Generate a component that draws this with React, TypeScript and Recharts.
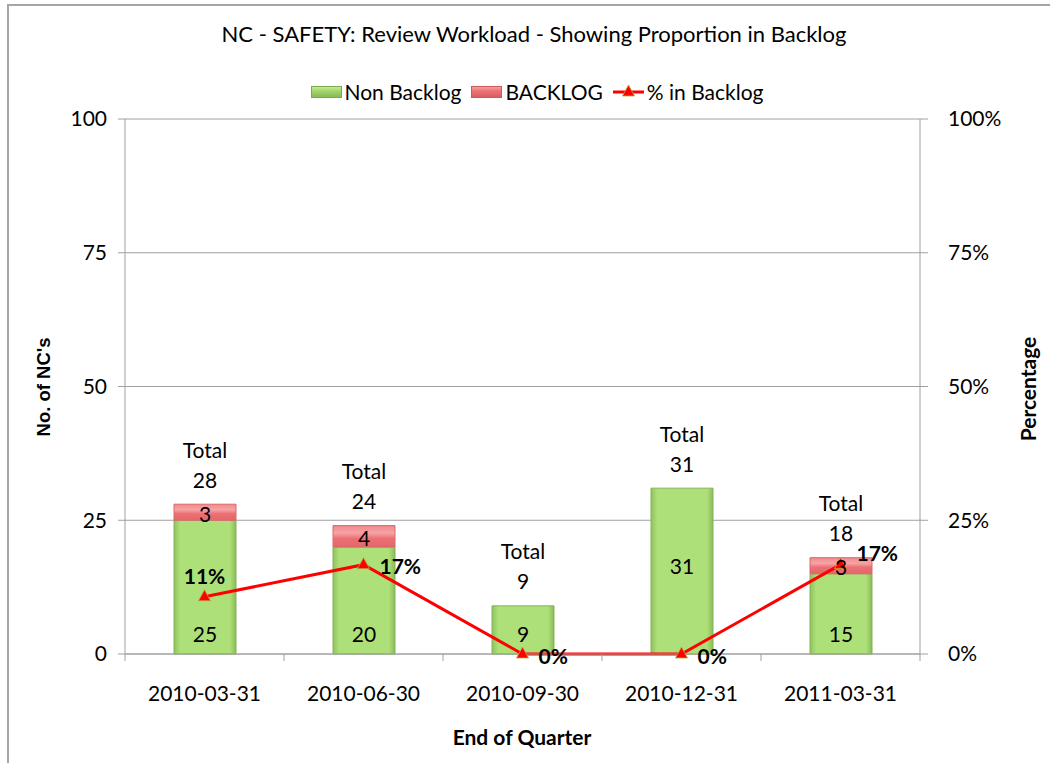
import React from 'react';
import { ComposedChart, Bar, Line, XAxis, YAxis, CartesianGrid, LabelList } from 'recharts';

const quarters = ['2010-03-31', '2010-06-30', '2010-09-30', '2010-12-31', '2011-03-31'];
const nonBacklog = [25, 20, 9, 31, 15];
const backlog = [3, 4, 0, 0, 3];
const totals = [28, 24, 9, 31, 18];
const pctInBacklog = [0.107, 0.167, 0, 0, 0.167];
const leftTicks = [0, 25, 50, 75, 100];
const rightTicks = [0, 0.25, 0.5, 0.75, 1];

const data = quarters.map((q, i) => ({
  quarter: q,
  nonBacklog: nonBacklog[i],
  backlog: backlog[i],
  total: totals[i],
  pct: pctInBacklog[i],
}));

const FONT = 'Lato, "Open Sans", sans-serif';
const FS = 21;
const AXIS = '#a0a0a0';
const HALF_BAND = 79.5;

const XTick = (props: any) => {
  const { x, y, payload, index } = props;
  return (
    <g>
      {index === 0 && <line x1={x - HALF_BAND} x2={x - HALF_BAND} y1={y} y2={y + 7} stroke={AXIS} />}
      <line x1={x + HALF_BAND} x2={x + HALF_BAND} y1={y} y2={y + 7} stroke={AXIS} />
      <text x={x} y={y + 38} textAnchor="middle" dominantBaseline="central" fontSize={FS} fontFamily={FONT} fill="#000">
        {payload.value}
      </text>
    </g>
  );
};

const GreenLabel = (props: any) => {
  const { x, y, width, height, value } = props;
  if (!value) return null;
  const cy = height > 150 ? y + height / 2 - 6 : y + height - 21;
  return (
    <text x={x + width / 2} y={cy} textAnchor="middle" dominantBaseline="central" fontSize={FS} fontFamily={FONT} fill="#000">
      {value}
    </text>
  );
};

const RedLabel = (props: any) => {
  const { x, y, width, height, value } = props;
  if (!value) return null;
  return (
    <text x={x + width / 2} y={y + height / 2 + 1} textAnchor="middle" dominantBaseline="central" fontSize={FS} fontFamily={FONT} fill="#000">
      {value}
    </text>
  );
};

// placed on the Non Backlog bar; lifts itself to the top of the whole stack
const TotalLabel = (props: any) => {
  const { x, y, width, height, index } = props;
  const row = data[index];
  if (!row || !row.nonBacklog) return null;
  const pxPerUnit = height / row.nonBacklog;
  const top = y + height - row.total * pxPerUnit;
  const cx = x + width / 2;
  return (
    <g>
      <text x={cx} y={top - 55} textAnchor="middle" dominantBaseline="central" fontSize={FS} fontFamily={FONT} fill="#000">
        Total
      </text>
      <text x={cx} y={top - 25} textAnchor="middle" dominantBaseline="central" fontSize={FS} fontFamily={FONT} fill="#000">
        {row.total}
      </text>
    </g>
  );
};

const PctLabel = (props: any) => {
  const { x, y, value, index } = props;
  const txt = Math.round(value * 100) + '%';
  if (index === 0) {
    return (
      <text x={x} y={y - 21} textAnchor="middle" dominantBaseline="central" fontSize={FS} fontWeight="bold" fontFamily={FONT} fill="#000">
        {txt}
      </text>
    );
  }
  const dy = index === data.length - 1 ? -12 : 1;
  return (
    <text x={x + 16} y={y + dy} textAnchor="start" dominantBaseline="central" fontSize={FS} fontWeight="bold" fontFamily={FONT} fill="#000">
      {txt}
    </text>
  );
};

const TriDot = (props: any) => {
  const { cx, cy } = props;
  if (cx == null || cy == null) return null;
  return (
    <polygon
      points={`${cx},${cy - 7} ${cx - 6},${cy + 4} ${cx + 6},${cy + 4}`}
      fill="#ff0000"
      stroke="#b8a842"
      strokeWidth={0.8}
    />
  );
};

const Swatch = ({ kind }: { kind: 'green' | 'red' }) => (
  <svg width={31} height={14} style={{ marginRight: 3 }}>
    <defs>
      <linearGradient id={`lg-${kind}`} x1="0" y1="0" x2="0" y2="1">
        <stop offset="0%" stopColor={kind === 'green' ? '#c8ec9c' : '#f7a6a8'} />
        <stop offset="40%" stopColor={kind === 'green' ? '#a3d66c' : '#ec7375'} />
        <stop offset="100%" stopColor={kind === 'green' ? '#86b852' : '#d95c5f'} />
      </linearGradient>
    </defs>
    <rect x={0.5} y={1.5} width={30} height={11} fill={`url(#lg-${kind})`} stroke={kind === 'green' ? '#7ba94c' : '#cc5a5d'} />
  </svg>
);

const LineSwatch = () => (
  <svg width={31} height={16} style={{ marginRight: 3 }}>
    <line x1={0} x2={31} y1={8} y2={8} stroke="#ff0000" strokeWidth={3} />
    <polygon points="15.5,1 9.5,12 21.5,12" fill="#ff0000" stroke="#b8a842" strokeWidth={0.8} />
  </svg>
);

export default function App() {
  return (
    <div style={{ position: 'absolute', left: 0, top: 0, width: 1050, height: 763, background: '#fff', fontFamily: FONT, overflow: 'hidden' }}>
      <svg width={1050} height={763} style={{ position: 'absolute', left: 0, top: 0 }}>
        <rect x={8} y={5} width={1100} height={800} fill="none" stroke="#a6a6a6" strokeWidth={2} />
        <text x={534} y={33} textAnchor="middle" dominantBaseline="central" fontSize={22} fontFamily={FONT} fill="#000">
          NC - SAFETY: Review Workload - Showing Proportion in Backlog
        </text>
        <text x={43} y={387} transform="rotate(-90 43 387)" textAnchor="middle" dominantBaseline="central" fontSize={18.5} fontWeight="bold" fontFamily='"Liberation Sans", Arial, sans-serif' fill="#000">
          No. of NC's
        </text>
        <text x={1027} y={389} transform="rotate(-90 1027 389)" textAnchor="middle" dominantBaseline="central" fontSize={FS} fontWeight="bold" fontFamily={FONT} fill="#000">
          Percentage
        </text>
        <text x={522} y={736} textAnchor="middle" dominantBaseline="central" fontSize={FS} fontWeight="bold" fontFamily={FONT} fill="#000">
          End of Quarter
        </text>
      </svg>
      <div style={{ position: 'absolute', left: 0, top: 80, width: 1074, display: 'flex', justifyContent: 'center', alignItems: 'center', fontSize: FS, color: '#000', lineHeight: '24px' }}>
        <Swatch kind="green" />
        <span style={{ marginRight: 10 }}>Non Backlog</span>
        <Swatch kind="red" />
        <span style={{ marginRight: 10 }}>BACKLOG</span>
        <LineSwatch />
        <span>% in Backlog</span>
      </div>
      <div style={{ position: 'absolute', left: 0, top: 0 }}>
        <ComposedChart width={1050} height={763} data={data} margin={{ top: 119, right: 0, bottom: 49, left: 0 }}>
          <defs>
            <linearGradient id="greenGrad" x1="0" y1="0" x2="1" y2="0">
              <stop offset="0%" stopColor="#8fc15c" />
              <stop offset="10%" stopColor="#aee07a" />
              <stop offset="90%" stopColor="#aee07a" />
              <stop offset="100%" stopColor="#8abb58" />
            </linearGradient>
            <linearGradient id="redGrad" x1="0" y1="0" x2="0" y2="1">
              <stop offset="0%" stopColor="#f08a8c" />
              <stop offset="35%" stopColor="#f7a3a5" />
              <stop offset="60%" stopColor="#eb7074" />
              <stop offset="100%" stopColor="#e4676a" />
            </linearGradient>
          </defs>
          <CartesianGrid yAxisId="left" vertical={false} stroke={AXIS} strokeWidth={1} />
          <XAxis
            dataKey="quarter"
            axisLine={{ stroke: AXIS }}
            tickLine={false}
            tickSize={0}
            tickMargin={0}
            height={60}
            tick={<XTick />}
            interval={0}
          />
          <YAxis
            yAxisId="left"
            orientation="left"
            width={125}
            domain={[0, 100]}
            ticks={leftTicks}
            axisLine={{ stroke: AXIS }}
            tickLine={{ stroke: AXIS }}
            tickSize={7}
            tickMargin={11}
            tick={{ fontSize: FS, fontFamily: FONT, fill: '#000' }}
          />
          <YAxis
            yAxisId="right"
            orientation="right"
            width={130}
            domain={[0, 1]}
            ticks={rightTicks}
            axisLine={{ stroke: AXIS }}
            tickLine={{ stroke: AXIS }}
            tickSize={8}
            tickMargin={20}
            tickFormatter={(v: number) => Math.round(v * 100) + '%'}
            tick={{ fontSize: FS, fontFamily: FONT, fill: '#000' }}
          />
          <Bar yAxisId="left" dataKey="nonBacklog" stackId="a" barSize={62} fill="url(#greenGrad)" stroke="#86b356" strokeWidth={1} isAnimationActive={false}>
            <LabelList dataKey="nonBacklog" content={<GreenLabel />} />
            <LabelList dataKey="total" content={<TotalLabel />} />
          </Bar>
          <Bar yAxisId="left" dataKey="backlog" stackId="a" barSize={62} fill="url(#redGrad)" stroke="#d8686b" strokeWidth={1} isAnimationActive={false}>
            <LabelList dataKey="backlog" content={<RedLabel />} />
          </Bar>
          <Line
            yAxisId="right"
            dataKey="pct"
            stroke="#ff0000"
            strokeWidth={3}
            dot={<TriDot />}
            activeDot={false}
            isAnimationActive={false}
          >
            <LabelList dataKey="pct" content={<PctLabel />} />
          </Line>
        </ComposedChart>
      </div>
    </div>
  );
}
